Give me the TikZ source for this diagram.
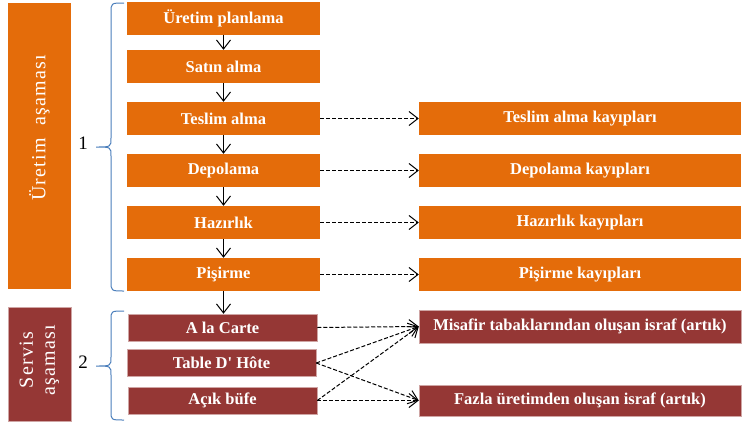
\documentclass[tikz,border=0pt]{standalone}
\usepackage{fontspec}
\setmainfont{Liberation Serif}
\usepackage{tikz}
\usetikzlibrary{arrows.meta,calc,positioning}
\definecolor{Orange}{HTML}{E46C0A}
\definecolor{Maroon}{HTML}{953735}
\definecolor{BraceBlue}{HTML}{4A7EBB}
\tikzset{stage/.style={fill=Orange,text=white,font=\fontsize{16.5}{18}\selectfont\bfseries,minimum width=193pt,minimum height=33pt,inner sep=0pt},serv/.style={fill=Maroon,draw=Maroon!45,line width=.5pt,text=white,font=\fontsize{16.5}{18}\selectfont\bfseries,minimum width=189pt,minimum height=27pt,inner sep=0pt},loss/.style={stage,minimum width=322pt},waste/.style={serv,minimum width=322pt,minimum height=33pt},sidebox/.style={minimum width=63pt,inner sep=0pt},sidelabel/.style={rotate=90,text=white,align=center,font=\fontsize{20}{22}\selectfont\addfontfeature{LetterSpace=6}},flow/.style={-{Straight Barb[length=9pt,width=14pt]},line width=1pt},dflow/.style={flow,dash pattern=on 4pt off 2pt},brace/.style={draw=BraceBlue,line width=1pt},num/.style={font=\fontsize{19}{22}\selectfont}}
\begin{document}
\begin{tikzpicture}[x=1pt,y=-1pt]
        \useasboundingbox (0,0) rectangle (742,424);
        % left side
        \node[sidebox,fill=Orange,minimum height=286pt] (prod) at (39.5,146) {};
        \node[sidelabel] (prodlbl) at (39.5,128) {Üretim\ \ aşaması};
        \node[sidebox,fill=Maroon,draw=Maroon!45,minimum height=114pt] (srv) at (39.5,364) {};
        \node[sidelabel] (srvlbl) at (39.5,360) {Servis\\aşaması};
        \draw[brace] (124,3) .. controls (111,3) .. (111,13) -- (111,138) .. controls (111,147) .. (96,147) .. controls (111,147) .. (111,156) -- (111,281) .. controls (111,291) .. (124,291);
        \draw[brace] (124,311) .. controls (111,311) .. (111,320) -- (111,357) .. controls (111,366) .. (96,366) .. controls (111,366) .. (111,375) -- (111,411) .. controls (111,420) .. (124,420);
        \node[num] (one) at (83,143) {1};
        \node[num] (two) at (83,362) {2};
        % main column
        \node[stage] (plan) at (223.5,18) {Üretim planlama};
        \node[stage] (buy) at (223.5,66.5) {Satın alma};
        \node[stage] (recv) at (223.5,118.5) {Teslim alma};
        \node[stage] (store) at (223.5,170.5) {Depolama};
        \node[stage] (prep) at (223.5,222.5) {Hazırlık};
        \node[stage] (cook) at (223.5,274.5) {Pişirme};
        \node[serv] (alc) at (222.5,327.5) {A la Carte};
        \node[serv] (tdh) at (221.5,363) {Table D\textquotesingle{} Hôte};
        \node[serv] (buf) at (222.5,400.5) {Açık büfe};
        % losses
        \node[loss] (recvloss) at (580,118.5) {Teslim alma kayıpları};
        \node[loss] (storeloss) at (580,170.5) {Depolama kayıpları};
        \node[loss] (preploss) at (580,222.5) {Hazırlık kayıpları};
        \node[loss] (cookloss) at (580,274.5) {Pişirme kayıpları};
        \node[waste] (guest) at (580,326.5) {Misafir tabaklarından oluşan israf (artık)};
        \node[waste,minimum height=31pt] (over) at (580,400.5) {Fazla üretimden oluşan israf (artık)};
        \foreach \a/\b in {plan/buy,buy/recv,recv/store,store/prep,prep/cook,cook/alc}
          \draw[flow] (\a.south) -- (\a.south |- \b.north);
        \foreach \a/\b in {recv/recvloss,store/storeloss,prep/preploss,cook/cookloss}
          \draw[dflow] (\a) -- (\b);
        \foreach \a/\b in {alc/guest,tdh/guest,buf/guest,tdh/over,buf/over}
          \draw[dflow] (\a.east) -- (\b.west);
      \end{tikzpicture}
\end{document}
